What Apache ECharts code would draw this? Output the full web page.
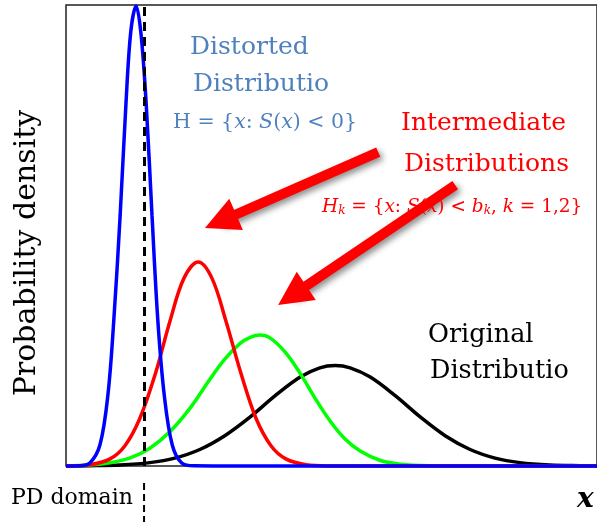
<!DOCTYPE html>
<html>
<head>
<meta charset="utf-8">
<script src="https://cdn.jsdelivr.net/npm/echarts@6/dist/echarts.min.js"></script>
<style>
  html, body { margin: 0; padding: 0; background: #fff; }
  #chart { width: 597px; height: 522px; }
</style>
</head>
<body>
<div id="chart"></div>
<script>
// curve samples: [x, density]
const distorted = [
  [0, 0], [2.6, 0.0006], [4.5, 0.0065], [6.4, 0.046], [7.9, 0.155], [9.0, 0.316],
  [10.2, 0.544], [11.3, 0.788], [12.2, 0.942], [13.2, 0.998], [14.1, 0.94],
  [15.1, 0.786], [16.2, 0.543], [17.3, 0.315], [18.5, 0.154], [20.0, 0.046],
  [21.8, 0.0065], [24.3, 0.0003], [29.0, 0], [100, 0]
];
const intermediate1 = [
  [0, 0.0002], [4.5, 0.0028], [8.3, 0.0155], [11.1, 0.044], [13.9, 0.103],
  [16.8, 0.199], [19.6, 0.315], [22.2, 0.407], [24.9, 0.4425], [27.5, 0.407],
  [30.1, 0.315], [33.0, 0.199], [35.8, 0.103], [38.6, 0.044], [41.4, 0.0155],
  [45.2, 0.0028], [49.7, 0.0002], [55.4, 0], [100, 0]
];
const intermediate2 = [
  [0, 0.0006], [4.5, 0.0024], [8.3, 0.0069], [12.1, 0.0174], [15.8, 0.0384],
  [19.6, 0.0746], [23.4, 0.126], [27.1, 0.188], [29.9, 0.232], [32.8, 0.266],
  [34.7, 0.279], [36.5, 0.284], [38.4, 0.278], [41.2, 0.248], [44.1, 0.201],
  [46.9, 0.147], [49.7, 0.098], [52.5, 0.059], [55.4, 0.0325], [59.1, 0.0125],
  [62.9, 0.004], [68.5, 0.0005], [74.2, 0], [100, 0]
];
const original = [
  [0, 0.0002], [4.5, 0.0006], [10.2, 0.0022], [15.8, 0.0073], [20.5, 0.0172],
  [25.2, 0.0358], [29.9, 0.0657], [34.7, 0.1065], [39.4, 0.1526], [44.1, 0.193],
  [47.8, 0.213], [50.7, 0.218], [53.5, 0.213], [57.3, 0.193], [62.0, 0.1526],
  [66.7, 0.1065], [71.4, 0.0657], [76.1, 0.0358], [80.8, 0.0172], [85.5, 0.0073],
  [91.1, 0.0022], [96.8, 0.0006], [100, 0.0003]
];
const pdBoundary = 14.7;
// arrows: [tail, centre of the head]
const arrows = [
  [[58.8, 0.681], [29.1, 0.531]],
  [[73.3, 0.6095], [42.6, 0.370]]
];

const serif = '"DejaVu Serif", serif';
const chart = echarts.init(document.getElementById('chart'));

function curve(name, data, color) {
  return {
    name: name,
    type: 'line',
    data: data,
    smooth: 0.35,
    showSymbol: false,
    clip: false,
    silent: true,
    lineStyle: { color: color, width: 3.5 },
    z: 3
  };
}

const option = {
  animation: false,
  grid: {
    left: 66, right: -2, top: 5, bottom: 56,
    show: true, borderColor: '#222', borderWidth: 1.5
  },
  xAxis: { type: 'value', min: 0, max: 100, show: false },
  yAxis: { type: 'value', min: 0, max: 1, show: false },
  series: [
    curve('Original', original, '#000000'),
    curve('Intermediate 2', intermediate2, '#00ff00'),
    curve('Intermediate 1', intermediate1, '#ff0000'),
    Object.assign(curve('Distorted', distorted, '#0000ff'), {
      markLine: {
        silent: true,
        symbol: 'none',
        label: { show: false },
        lineStyle: { color: '#000', width: 3, type: [9, 6] },
        data: [{ xAxis: pdBoundary }]
      }
    }),
    {
      type: 'line',
      data: [],
      silent: true,
      z: 6,
      markLine: {
        silent: true,
        symbol: ['none', 'triangle'],
        symbolSize: 34,
        label: { show: false },
        itemStyle: { color: '#ff0000' },
        lineStyle: {
          color: '#ff0000', width: 10, type: 'solid',
          shadowBlur: 6, shadowColor: 'rgba(0,0,0,0.45)', shadowOffsetX: 3, shadowOffsetY: 3
        },
        data: arrows.map(a => [{ coord: a[0] }, { coord: a[1] }])
      }
    }
  ]
};
chart.setOption(option);

const px = chart.convertToPixel({ gridIndex: 0 }, [pdBoundary, 0]);

function label(x, y, text, fill, size, extra) {
  return {
    type: 'text', x: x, y: y, z: 10, silent: true,
    style: Object.assign({
      text: text, fill: fill, font: size + 'px ' + serif,
      textAlign: 'left', textVerticalAlign: 'middle'
    }, extra || {})
  };
}

const mathN = (c, s) => ({ fill: c, fontFamily: serif, fontSize: s });
const mathI = (c, s) => ({ fill: c, fontFamily: serif, fontSize: s, fontStyle: 'italic' });

chart.setOption({
  graphic: [
    label(190, 47, 'Distorted', '#4f81bd', 25),
    label(193, 84, 'Distributio', '#4f81bd', 25),
    label(173, 123, '{n|H = {}{i|x}{n|: }{i|S}{n|(}{i|x}{n|) < 0}}', '#4f81bd', 20.5, {
      rich: { n: mathN('#4f81bd', 20.5), i: mathI('#4f81bd', 20.5) }
    }),
    label(401, 123, 'Intermediate', '#ff0000', 25),
    label(404, 164, 'Distributions', '#ff0000', 25),
    label(322, 207,
      '{i|H}{s|k}{n| = {}{i|x}{n|: }{i|S}{n|(}{i|x}{n|) < }{i|b}{s|k}{n|, }{i|k}{n| = 1,2}}',
      '#ff0000', 18.5, {
        rich: {
          n: mathN('#ff0000', 18.5), i: mathI('#ff0000', 18.5),
          s: Object.assign(mathI('#ff0000', 12), { verticalAlign: 'bottom', padding: [6, 0, 0, 0] })
        }
      }),
    label(428, 335, 'Original', '#000', 25.5),
    label(430, 371, 'Distributio', '#000', 25.5),
    label(11, 498, 'PD domain', '#000', 22),
    label(577, 500, 'x', '#000', 28, { font: 'italic bold 28px ' + serif }),
    {
      type: 'text', x: 27, y: 253, rotation: Math.PI / 2, z: 10, silent: true,
      style: {
        text: 'Probability density', fill: '#000', font: '30px ' + serif,
        textAlign: 'center', textVerticalAlign: 'middle'
      }
    },
    {
      type: 'line', z: 10, silent: true,
      shape: { x1: px[0], y1: 483, x2: px[0], y2: 522 },
      style: { stroke: '#000', lineWidth: 2, lineDash: [7, 4] }
    }
  ]
});
</script>
</body>
</html>
